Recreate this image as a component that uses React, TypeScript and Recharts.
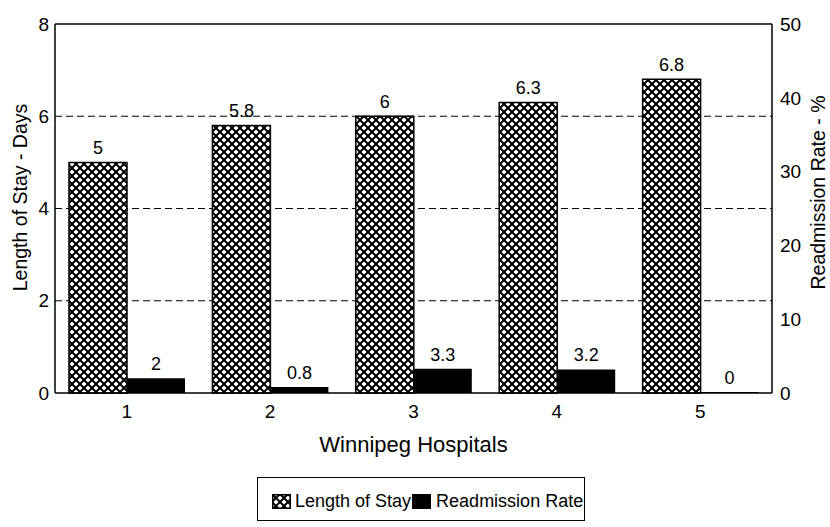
import React from 'react';
import {
  BarChart,
  Bar,
  XAxis,
  YAxis,
  CartesianGrid,
  ReferenceLine,
  LabelList,
  Legend,
} from 'recharts';

// values
const hospitals = ['1', '2', '3', '4', '5'];
const lengthOfStay = [5, 5.8, 6, 6.3, 6.8];
const readmissionRate = [2, 0.8, 3.3, 3.2, 0];
const leftTicks = [0, 2, 4, 6, 8];
const rightTicks = [0, 10, 20, 30, 40, 50];
const gridValues = [2, 4, 6];

const data = hospitals.map((h, i) => ({
  hospital: h,
  los: lengthOfStay[i],
  readm: readmissionRate[i],
}));

const FONT = '"Liberation Sans", Arial, Helvetica, sans-serif';

// rotated axis title, placed from the axis box
const YTitle = ({ viewBox, text, dx, dy }: any) => {
  const { x, y, height } = viewBox;
  const cx = x + dx;
  const cy = y + height / 2 + dy;
  return (
    <text
      x={cx}
      y={cy}
      transform={`rotate(-90 ${cx} ${cy})`}
      textAnchor="middle"
      dominantBaseline="central"
      fontSize={19.5}
      fontFamily={FONT}
      fill="#000"
    >
      {text}
    </text>
  );
};

const LegendBox = ({ payload }: any) => (
  <div
    style={{
      boxSizing: 'border-box',
      width: 328,
      height: 44,
      border: '1.5px solid #000',
      display: 'flex',
      alignItems: 'center',
      paddingLeft: 14,
      paddingTop: 4,
      fontFamily: FONT,
      fontSize: 18,
      color: '#000',
      background: '#fff',
    }}
  >
    {(payload || []).map((entry: any, i: number) => (
      <span key={i} style={{ display: 'flex', alignItems: 'center' }}>
        <svg width={19} height={15} style={{ marginLeft: i === 0 ? 0 : 1, marginRight: i === 0 ? 4 : 5 }}>
          <rect
            x={0.75}
            y={0.75}
            width={17.5}
            height={13.5}
            fill={entry.dataKey === 'los' ? 'url(#hatch)' : '#000'}
            stroke="#000"
            strokeWidth={1.5}
          />
        </svg>
        <span>{entry.value}</span>
      </span>
    ))}
  </div>
);

export default function App() {
  return (
    <div style={{ position: 'absolute', left: 0, top: 0, background: '#fff' }}>
      <BarChart
        width={830}
        height={527}
        data={data}
        margin={{ top: 24, right: 0, bottom: 75, left: 0 }}
        barGap={0}
        style={{ fontFamily: FONT }}
      >
        <defs>
          <pattern id="hatch" width={8} height={8} patternUnits="userSpaceOnUse">
            <rect width={8} height={8} fill="#fff" />
            <path d="M-2,-2 L10,10 M10,-2 L-2,10" stroke="#000" strokeWidth={2} />
          </pattern>
        </defs>
        <CartesianGrid
          yAxisId="left"
          vertical={false}
          horizontalValues={gridValues}
          stroke="#000"
          strokeDasharray="7 4"
        />
        <XAxis
          dataKey="hospital"
          height={59}
          tickLine={false}
          tickSize={0}
          tickMargin={12}
          axisLine={{ stroke: '#000', strokeWidth: 1.5 }}
          tick={{ fontSize: 19, fill: '#000' }}
          label={{ value: 'Winnipeg Hospitals', position: 'insideBottom', offset: 0, fontSize: 22, fill: '#000' }}
        />
        <YAxis
          yAxisId="left"
          width={55}
          domain={[0, 8]}
          ticks={leftTicks}
          tickLine={false}
          tickSize={0}
          tickMargin={6}
          axisLine={{ stroke: '#000', strokeWidth: 1.5 }}
          tick={{ fontSize: 19, fill: '#000' }}
          label={{ content: (p: any) => <YTitle {...p} text="Length of Stay - Days" dx={20} dy={-11} /> }}
        />
        <YAxis
          yAxisId="right"
          orientation="right"
          width={58}
          domain={[0, 50]}
          ticks={rightTicks}
          tickLine={false}
          tickSize={0}
          tickMargin={8}
          axisLine={{ stroke: '#000', strokeWidth: 1.5 }}
          tick={{ fontSize: 19, fill: '#000' }}
          label={{ content: (p: any) => <YTitle {...p} text="Readmission Rate - %" dx={46} dy={-16} /> }}
        />
        <ReferenceLine yAxisId="left" y={8} stroke="#000" strokeWidth={1.5} />
        <Bar
          yAxisId="left"
          dataKey="los"
          name="Length of Stay"
          barSize={58}
          fill="url(#hatch)"
          stroke="#000"
          strokeWidth={1.5}
          isAnimationActive={false}
        >
          <LabelList dataKey="los" position="top" offset={8} fontSize={18} fill="#000" formatter={(v: any) => String(v)} />
        </Bar>
        <Bar
          yAxisId="right"
          dataKey="readm"
          name="Readmission Rate"
          barSize={58}
          minPointSize={1}
          fill="#000"
          isAnimationActive={false}
        >
          <LabelList dataKey="readm" position="top" offset={8} fontSize={18} fill="#000" formatter={(v: any) => String(v)} />
        </Bar>
        <Legend
          layout="horizontal"
          verticalAlign="middle"
          align="center"
          content={<LegendBox />}
          wrapperStyle={{ left: 257, top: 477, width: 328, height: 44, bottom: 'auto', right: 'auto' }}
        />
      </BarChart>
    </div>
  );
}
